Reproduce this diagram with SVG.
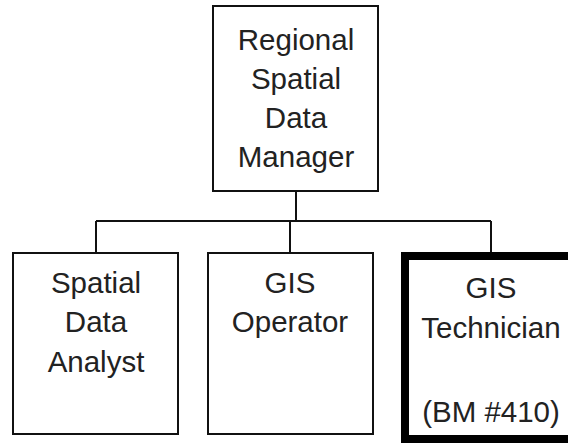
<svg xmlns="http://www.w3.org/2000/svg" width="568" height="443" viewBox="0 0 568 443">
<style>
.box{fill:#fff;stroke:#111;stroke-width:2}
.thick{fill:#fff;stroke:#000;stroke-width:8}
.t{font-family:"Liberation Sans",Arial,sans-serif;font-size:29.5px;fill:#222;text-anchor:middle}
.c{fill:none;stroke:#111;stroke-width:2}
</style>
<rect width="568" height="443" fill="#fff"/>
<g id="connectors">
<path class="c" d="M296 191V221M96 221H491M96 221V253M290 221V253M491 221V253"/>
</g>
<g id="manager">
<rect class="box" x="213" y="6" width="165" height="185"/>
<text class="t" x="296" y="50">Regional</text>
<text class="t" x="296" y="89">Spatial</text>
<text class="t" x="296" y="128">Data</text>
<text class="t" x="296" y="167">Manager</text>
</g>
<g id="analyst">
<rect class="box" x="13" y="253" width="165" height="181"/>
<text class="t" x="96" y="293">Spatial</text>
<text class="t" x="96" y="332">Data</text>
<text class="t" x="96" y="372">Analyst</text>
</g>
<g id="operator">
<rect class="box" x="208" y="253" width="165" height="181"/>
<text class="t" x="290" y="293">GIS</text>
<text class="t" x="290" y="332">Operator</text>
</g>
<g id="technician">
<rect class="thick" x="405" y="256" width="180" height="183"/>
<text class="t" x="491" y="298">GIS</text>
<text class="t" x="491" y="338">Technician</text>
<text class="t" x="491" y="422">(BM #410)</text>
</g>
</svg>
